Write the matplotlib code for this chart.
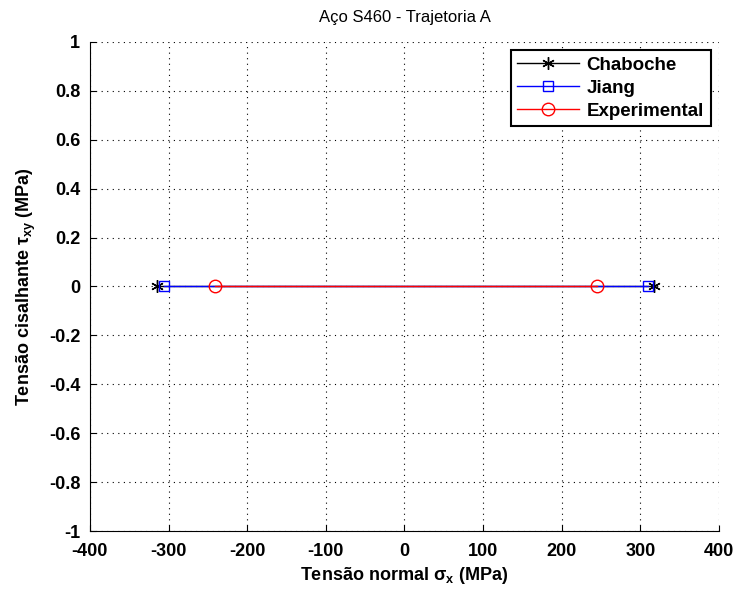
import numpy as np
import matplotlib
matplotlib.use('Agg')
from matplotlib import pyplot as plt

plt.rcParams['font.family'] = ['Liberation Sans', 'DejaVu Sans']
plt.rcParams['axes.unicode_minus'] = False

# endpoints of each path (sigma_x, tau_xy)
chaboche_x = [-315, 317]
chaboche_y = [0, 0]
jiang_x = [-306, 310]
jiang_y = [0, 0]
exp_x = [-241, 245]
exp_y = [0, 0]

xticks = np.arange(-400, 401, 100)
yticks = np.round(np.arange(-1, 1.01, 0.2), 1)
ylabels = ['%g' % (0 if abs(v) < 1e-9 else v) for v in yticks]

fig = plt.figure(figsize=(7.37, 5.90), dpi=100)
ax = fig.add_axes([0.122, 0.1, 0.8536, 0.829])

ax.plot(chaboche_x, chaboche_y, 'k-', marker=(6, 2, 0), markersize=9, lw=1, label='Chaboche')
ax.plot(jiang_x, jiang_y, 'b-', marker='s', markersize=7, mfc='none', lw=1, label='Jiang')
ax.plot(exp_x, exp_y, 'r-', marker='o', markersize=9, mfc='none', lw=1, label='Experimental')

ax.set_xlim(-400, 400)
ax.set_ylim(-1, 1)
ax.set_xticks(xticks)
ax.set_yticks(yticks)
ax.set_yticklabels(ylabels)
for lab in ax.get_xticklabels() + ax.get_yticklabels():
    lab.set_fontweight('bold')
ax.tick_params(labelsize=13, direction='in', length=4)
ax.tick_params(axis='x', pad=9)
ax.tick_params(axis='y', pad=7)
ax.spines['top'].set_visible(False)
ax.spines['right'].set_visible(False)
ax.grid(True, color='k', linestyle=(0, (1, 4)), lw=0.8)

ax.set_title('Aço S460 - Trajetoria A', fontsize=12, pad=14)
ax.set_xlabel('Tensão normal σ$_\\mathregular{x}$ (MPa)', fontsize=13, fontweight='bold', labelpad=3)
ax.set_ylabel('Tensão cisalhante τ$_\\mathregular{xy}$ (MPa)', fontsize=13, fontweight='bold', labelpad=8)

leg = ax.legend(loc='upper right', fancybox=False, framealpha=1,
                edgecolor='k', borderaxespad=0.45, handlelength=3.3,
                labelspacing=0.3, borderpad=0.35, handletextpad=0.4,
                prop={'weight': 'bold', 'size': 13.5})
leg.get_frame().set_linewidth(1.5)

fig.savefig('out.png', dpi=100)
